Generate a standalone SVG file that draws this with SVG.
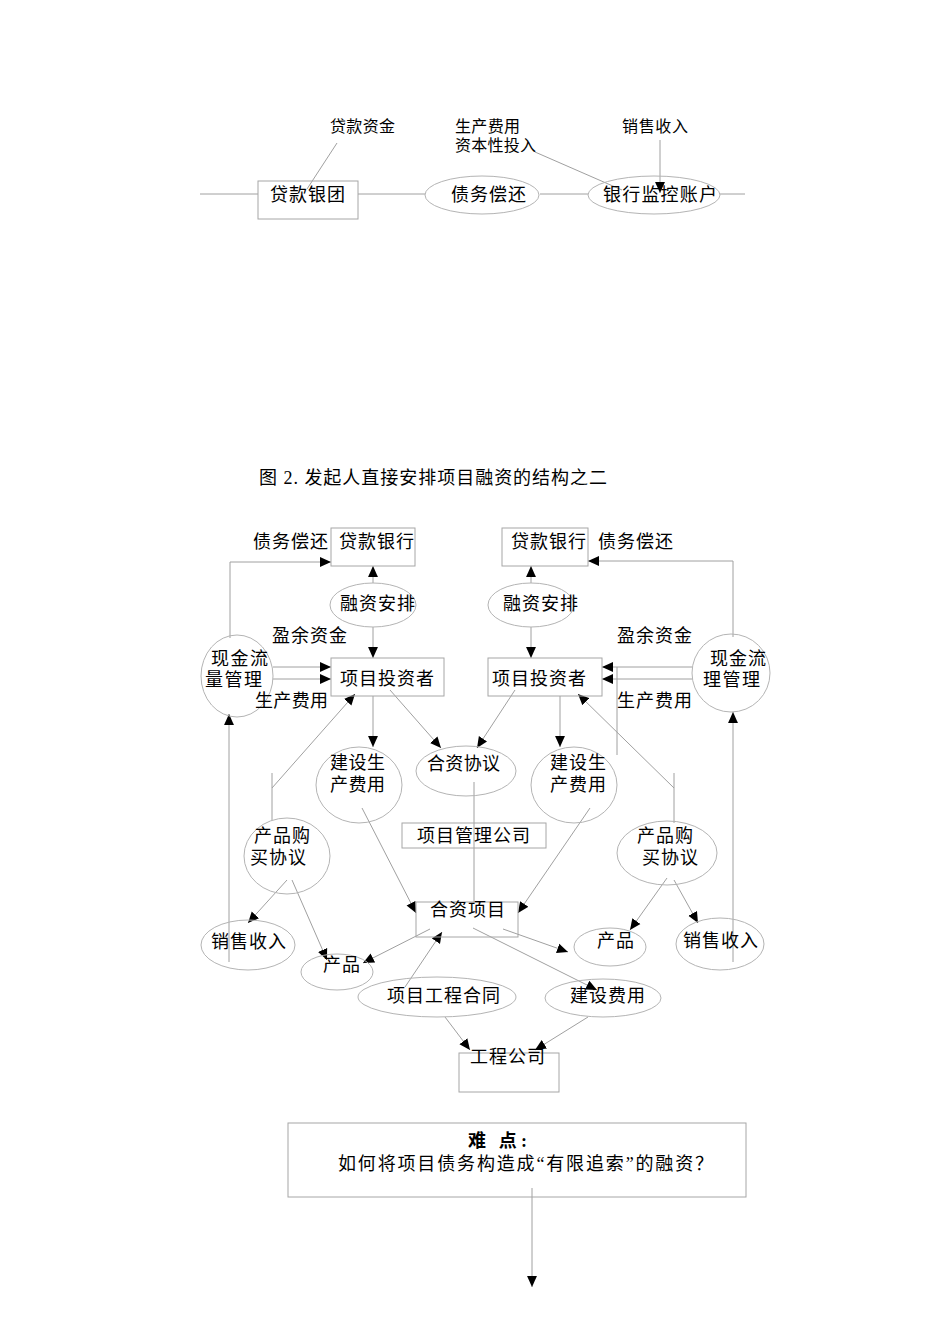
<svg xmlns="http://www.w3.org/2000/svg" width="950" height="1344" viewBox="0 0 950 1344">
<defs>
<style>
text{font-family:"Liberation Serif","Noto Sans CJK SC",serif;font-size:18px;fill:#000}
.s{font-size:16px}
.b{font-weight:bold}
.box{fill:none;stroke:#a6a6a6;stroke-width:1}
.el{fill:none;stroke:#b4b4b4;stroke-width:1}
.ln{fill:none;stroke:#a0a0a0;stroke-width:1}
.ar{marker-end:url(#ah)}
</style>
<marker id="ah" viewBox="0 0 10 10" refX="10" refY="5" markerWidth="11" markerHeight="11" orient="auto" markerUnits="userSpaceOnUse"><path d="M0,0.5 L10,5 L0,9.5 z" fill="#000"/></marker>
</defs>
<rect width="950" height="1344" fill="#fff"/>

<g id="connectors">
<line class="ln" x1="200" y1="194" x2="258" y2="194"/>
<line class="ln" x1="358" y1="194" x2="425" y2="194"/>
<line class="ln" x1="540" y1="194" x2="588" y2="194"/>
<line class="ln" x1="720" y1="194" x2="745" y2="194"/>
<line class="ln" x1="337" y1="143" x2="307" y2="189"/>
<line class="ln" x1="535" y1="152" x2="622" y2="190"/>
<line class="ln ar" x1="660" y1="140" x2="660" y2="193"/>

<line class="ln ar" x1="373" y1="583" x2="373" y2="566"/>
<line class="ln ar" x1="373" y1="627" x2="373" y2="658"/>
<line class="ln ar" x1="531" y1="583" x2="531" y2="566"/>
<line class="ln ar" x1="531" y1="627" x2="531" y2="658"/>
<polyline class="ln ar" points="230,638 230,562 331,562"/>
<polyline class="ln ar" points="733,637 733,561 588,561"/>
<line class="ln ar" x1="273" y1="667" x2="331" y2="667"/>
<line class="ln ar" x1="273" y1="679" x2="331" y2="679"/>
<line class="ln ar" x1="692" y1="667" x2="602" y2="667"/>
<line class="ln ar" x1="692" y1="679" x2="602" y2="679"/>
<line class="ln" x1="617" y1="667" x2="617" y2="755"/>
<line class="ln ar" x1="229" y1="962" x2="229" y2="714"/>
<line class="ln ar" x1="733" y1="962" x2="733" y2="712"/>
<line class="ln ar" x1="373" y1="696" x2="373" y2="747"/>
<line class="ln ar" x1="390" y1="690" x2="441" y2="748"/>
<line class="ln ar" x1="515" y1="690" x2="477" y2="748"/>
<line class="ln ar" x1="560" y1="696" x2="560" y2="747"/>
<line class="ln" x1="272" y1="773" x2="272" y2="820"/>
<line class="ln ar" x1="272" y1="788" x2="355" y2="694"/>
<line class="ln" x1="674" y1="773" x2="674" y2="823"/>
<line class="ln ar" x1="674" y1="788" x2="578" y2="694"/>
<line class="ln" x1="474" y1="782" x2="474" y2="902"/>
<line class="ln ar" x1="362" y1="808" x2="416" y2="913"/>
<line class="ln ar" x1="590" y1="808" x2="518" y2="913"/>
<line class="ln ar" x1="287" y1="880" x2="248" y2="923"/>
<line class="ln ar" x1="292" y1="880" x2="327" y2="960"/>
<line class="ln ar" x1="430" y1="929" x2="363" y2="963"/>
<line class="ln ar" x1="405" y1="987" x2="442" y2="932"/>
<line class="ln ar" x1="445" y1="1017" x2="470" y2="1050"/>
<line class="ln ar" x1="588" y1="1017" x2="535" y2="1050"/>
<line class="ln ar" x1="473" y1="928" x2="597" y2="990"/>
<line class="ln ar" x1="503" y1="929" x2="568" y2="952"/>
<line class="ln ar" x1="667" y1="878" x2="630" y2="930"/>
<line class="ln ar" x1="674" y1="880" x2="698" y2="923"/>
<line class="ln ar" x1="532" y1="1188" x2="532" y2="1287"/>
</g>

<g id="top-labels">
<text class="s" x="330" y="132" textLength="65">贷款资金</text>
<text class="s" x="455" y="132" textLength="65">生产费用</text>
<text class="s" x="455" y="151" textLength="81">资本性投入</text>
<text class="s" x="622" y="132" textLength="66">销售收入</text>
</g>
<g id="n-daikuantuan"><rect class="box" x="258" y="181" width="100" height="38"/><text x="270" y="201" textLength="75">贷款银团</text></g>
<g id="n-zhaiwu-top"><ellipse class="el" cx="482" cy="195" rx="57" ry="19"/><text x="451" y="201" textLength="75">债务偿还</text></g>
<g id="n-jiankong"><ellipse class="el" cx="654" cy="195" rx="66" ry="19"/><text x="603" y="201" textLength="114">银行监控账户</text></g>

<g id="title"><text x="259" y="484" textLength="348">图 2. 发起人直接安排项目融资的结构之二</text></g>

<g id="lbl-zhaiwu-l"><text x="253" y="548" textLength="75">债务偿还</text></g>
<g id="n-bank-l"><rect class="box" x="331" y="528" width="84" height="38"/><text x="339" y="548" textLength="75">贷款银行</text></g>
<g id="n-bank-r"><rect class="box" x="502" y="528" width="86" height="38"/><text x="511" y="548" textLength="75">贷款银行</text></g>
<g id="lbl-zhaiwu-r"><text x="598" y="548" textLength="75">债务偿还</text></g>
<g id="n-rongzi-l"><ellipse class="el" cx="373" cy="605" rx="43" ry="22"/><text x="340" y="610" textLength="75">融资安排</text></g>
<g id="n-rongzi-r"><ellipse class="el" cx="531" cy="605" rx="43" ry="22"/><text x="503" y="610" textLength="75">融资安排</text></g>
<g id="lbl-yingyu-l"><text x="272" y="642" textLength="75">盈余资金</text></g>
<g id="lbl-yingyu-r"><text x="617" y="642" textLength="75">盈余资金</text></g>
<g id="n-touzi-l"><rect class="box" x="331" y="658" width="113" height="38"/><text x="340" y="685" textLength="94">项目投资者</text></g>
<g id="n-touzi-r"><rect class="box" x="488" y="658" width="114" height="38"/><text x="492" y="685" textLength="94">项目投资者</text></g>
<g id="n-xianjin-l"><ellipse class="el" cx="237" cy="676" rx="36" ry="41"/><text x="211" y="665" textLength="57">现金流</text><text x="205" y="686" textLength="57">量管理</text></g>
<g id="n-xianjin-r"><ellipse class="el" cx="731" cy="673" rx="39" ry="39"/><text x="710" y="665" textLength="56">现金流</text><text x="703" y="686" textLength="57">理管理</text></g>
<g id="lbl-shengchan-l"><text x="255" y="707" textLength="73">生产费用</text></g>
<g id="lbl-shengchan-r"><text x="617" y="707" textLength="75">生产费用</text></g>
<g id="n-heziyi"><ellipse class="el" cx="466" cy="771" rx="50" ry="25"/><text x="427" y="770" textLength="73">合资协议</text></g>
<g id="n-jianshe-l"><ellipse class="el" cx="359" cy="785" rx="43" ry="38"/><text x="330" y="769" textLength="55">建设生</text><text x="330" y="791" textLength="55">产费用</text></g>
<g id="n-jianshe-r"><ellipse class="el" cx="574" cy="785" rx="43" ry="38"/><text x="550" y="769" textLength="56">建设生</text><text x="550" y="791" textLength="56">产费用</text></g>
<g id="n-guanli"><rect class="box" x="402" y="823" width="144" height="25"/><text x="417" y="842" textLength="113">项目管理公司</text></g>
<g id="n-goumai-l"><ellipse class="el" cx="287" cy="856" rx="43" ry="38"/><text x="254" y="842" textLength="56">产品购</text><text x="250" y="864" textLength="56">买协议</text></g>
<g id="n-goumai-r"><ellipse class="el" cx="667" cy="853" rx="50" ry="32"/><text x="637" y="842" textLength="56">产品购</text><text x="642" y="864" textLength="56">买协议</text></g>
<g id="n-hezixiangmu"><rect class="box" x="416" y="902" width="102" height="35"/><text x="430" y="916" textLength="75">合资项目</text></g>
<g id="n-xiaoshou-l"><ellipse class="el" cx="248" cy="945" rx="47" ry="25"/><text x="211" y="948" textLength="75">销售收入</text></g>
<g id="n-chanpin-l"><ellipse class="el" cx="337" cy="972" rx="36" ry="18"/><text x="323" y="971" textLength="37">产品</text></g>
<g id="n-chanpin-r"><ellipse class="el" cx="610" cy="947" rx="36" ry="19"/><text x="597" y="947" textLength="37">产品</text></g>
<g id="n-xiaoshou-r"><ellipse class="el" cx="720" cy="944" rx="44" ry="26"/><text x="683" y="947" textLength="75">销售收入</text></g>
<g id="n-gongchenghetong"><ellipse class="el" cx="437" cy="997" rx="79" ry="20"/><text x="387" y="1002" textLength="113">项目工程合同</text></g>
<g id="n-jianshefeiyong"><ellipse class="el" cx="603" cy="998" rx="58" ry="19"/><text x="570" y="1002" textLength="75">建设费用</text></g>
<g id="n-gongcheng"><rect class="box" x="459" y="1053" width="100" height="39"/><text x="470" y="1063" textLength="75">工程公司</text></g>
<g id="n-nandian"><rect class="box" x="288" y="1123" width="458" height="74"/><text class="b" x="468" y="1147" textLength="59">难 点:</text><text x="338" y="1170" textLength="375">如何将项目债务构造成“有限追索”的融资？</text></g>
</svg>
